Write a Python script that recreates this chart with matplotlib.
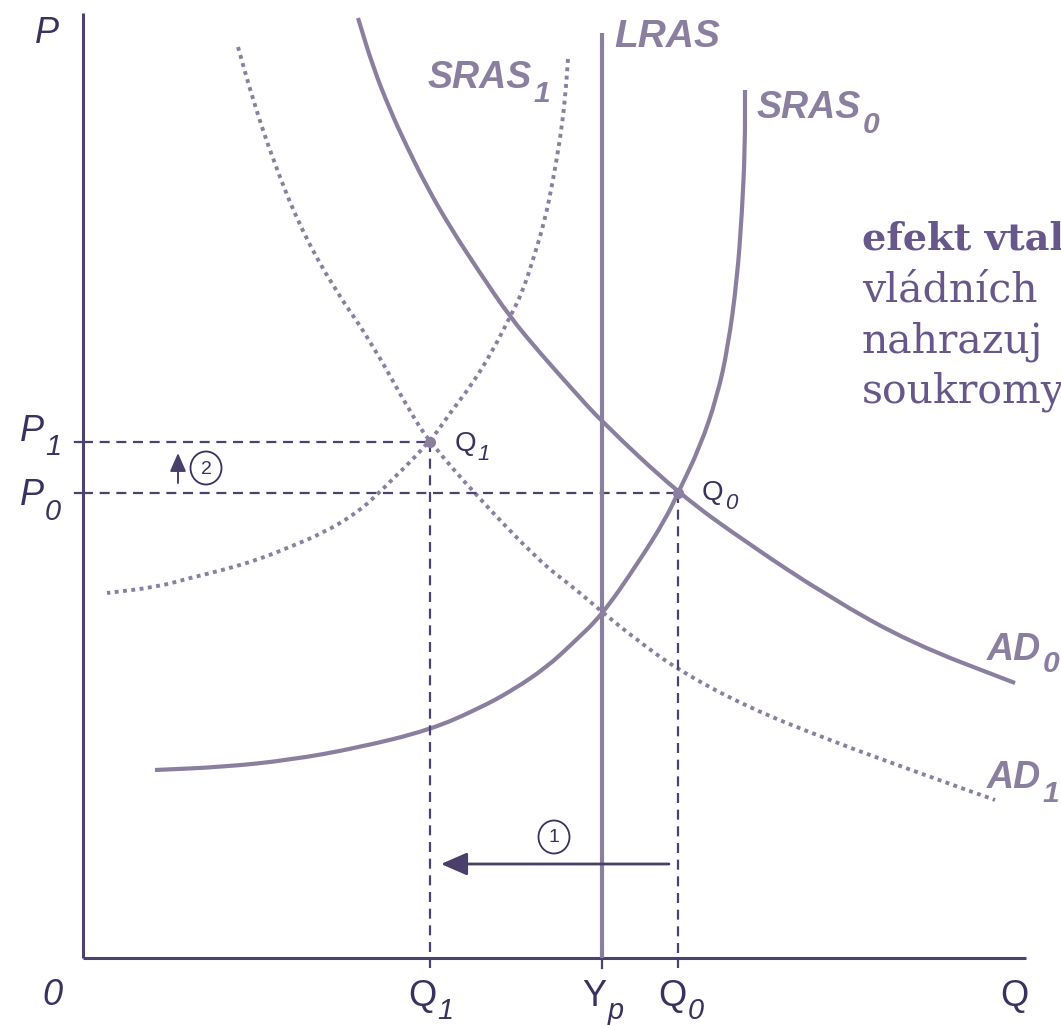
import matplotlib
matplotlib.use("Agg")
import matplotlib.pyplot as plt
from matplotlib.path import Path
from matplotlib.patches import PathPatch, Ellipse

# ---- data (pixel space of the diagram: x right, y down) ----
ad0_q = [358, 373, 390, 407, 427, 450, 480, 510, 540, 573, 602, 678, 747, 829, 911, 1015]
ad0_p = [18, 67, 110, 147, 187, 227, 273, 317, 353, 390, 422, 493, 543, 597, 643, 683]

ad1_q = [238, 253, 273, 300, 333, 370, 413, 430, 474, 540, 573, 602, 637, 678, 747, 829, 911, 995]
ad1_p = [47, 100, 160, 227, 287, 340, 417, 442, 493, 562, 587, 612, 640, 670, 707, 740, 770, 800]

sras0_q = [745, 745, 742, 737, 728, 717, 700, 678, 665, 638, 602, 573, 547, 513, 480, 430, 357, 290, 223, 155]
sras0_p = [90, 147, 213, 280, 347, 397, 447, 493, 520, 563, 615, 643, 667, 690, 708, 730, 748, 760, 767, 770]

sras1_q = [568, 565, 560, 553, 545, 533, 522, 510, 493, 473, 450, 430, 380, 357, 323, 290, 257, 223, 190, 157, 107]
sras1_p = [59, 100, 140, 180, 220, 260, 293, 317, 350, 383, 413, 442, 492, 513, 533, 547, 560, 570, 578, 587, 593]

lras_q = 602
lras_p = [33, 958]

eq_q = [678, 430]   # Q0, Q1
eq_p = [493, 442]   # P0, P1
yp_q = 602

text_lines = ["efekt vtal", "vládních ", "nahrazuj", "soukromy"]
text_bold = [True, False, False, False]

# ---- styles ----
CURVE = "#8b7fa0"
AXIS = "#4d426f"
DARK = "#3b3160"
TXT = "#67578a"

fig = plt.figure(figsize=(10.61, 10.25), dpi=100)
ax = fig.add_axes([0, 0, 1, 1])
ax.set_xlim(0, 1061)
ax.set_ylim(1025, 0)
ax.axis("off")


def smooth(ax, xs, ys, **kw):
    verts = [(xs[0], ys[0])]
    codes = [Path.MOVETO]
    n = len(xs)
    for i in range(1, n - 1):
        mx = (xs[i] + xs[i + 1]) / 2
        my = (ys[i] + ys[i + 1]) / 2
        if i == 1:
            verts.append(((xs[0] + xs[1]) / 2, (ys[0] + ys[1]) / 2))
            codes.append(Path.LINETO)
        verts += [(xs[i], ys[i]), (mx, my)]
        codes += [Path.CURVE3, Path.CURVE3]
    verts.append((xs[-1], ys[-1]))
    codes.append(Path.LINETO)
    ax.add_patch(PathPatch(Path(verts, codes), fill=False, **kw))


dot_style = dict(color=CURVE, lw=2.8, linestyle=(0, (1.0, 1.15)), capstyle="butt")
solid_style = dict(color=CURVE, lw=3.0, capstyle="butt")

# axes
ax.plot([83, 83], [13, 958], color=AXIS, lw=2.2, solid_capstyle="butt")
ax.plot([83, 1026], [958, 958], color=AXIS, lw=2.2, solid_capstyle="butt")

# dashed guide lines
dash = dict(color=AXIS, lw=1.6, linestyle=(0, (4.5, 3.0)))
ax.plot([75, 83], [eq_p[1], eq_p[1]], color=AXIS, lw=1.6)
ax.plot([75, 83], [eq_p[0], eq_p[0]], color=AXIS, lw=1.6)
ax.plot([83, eq_q[1]], [eq_p[1], eq_p[1]], **dash)
ax.plot([83, eq_q[0]], [eq_p[0], eq_p[0]], **dash)
ax.plot([eq_q[1], eq_q[1]], [eq_p[1], 968], **dash)
ax.plot([eq_q[0], eq_q[0]], [eq_p[0], 968], **dash)
ax.plot([yp_q, yp_q], [958, 968], color=AXIS, lw=1.6)

# curves
smooth(ax, ad1_q, ad1_p, **dot_style)
smooth(ax, sras1_q, sras1_p, **dot_style)
smooth(ax, ad0_q, ad0_p, **solid_style)
smooth(ax, sras0_q, sras0_p, **solid_style)
ax.plot([lras_q, lras_q], lras_p, color=CURVE, lw=3.0, solid_capstyle="butt")

# equilibrium dots
ax.plot(eq_q, eq_p, "o", color=CURVE, ms=8, mec="none")

# arrows
ax.annotate("", xy=(441, 864), xytext=(669, 864),
            arrowprops=dict(arrowstyle="-|>,head_length=0.8,head_width=0.35",
                            mutation_scale=20, lw=2.0, color="#4a3f6b",
                            shrinkA=0, shrinkB=0))
ax.annotate("", xy=(178, 453), xytext=(178, 483),
            arrowprops=dict(arrowstyle="-|>,head_length=0.8,head_width=0.35",
                            mutation_scale=14, lw=1.4, color="#4a3f6b",
                            shrinkA=0, shrinkB=0))
for (cx, cy, s) in [(554, 837, "1"), (206, 468, "2")]:
    ax.add_patch(Ellipse((cx, cy), 31, 33, fill=False, ec=DARK, lw=1.3))
    ax.text(cx, cy + 1, s, ha="center", va="center", fontsize=14,
            family="Liberation Sans", color=DARK)

fig.canvas.draw()
renderer = fig.canvas.get_renderer()


def label(x, y, main, sub, size, color, weight="normal", mstyle="normal",
          sstyle="italic", sub_scale=0.8, dy=15, gap=1, ha="left"):
    t = ax.text(x, y, main, fontsize=size, color=color, fontweight=weight,
                fontstyle=mstyle, family="Liberation Sans", va="baseline", ha="left")
    bb = t.get_window_extent(renderer)
    w_main = bb.x1 - bb.x0
    if sub:
        s = ax.text(0, 0, sub, fontsize=size * sub_scale, color=color,
                    fontweight=weight, fontstyle=sstyle,
                    family="Liberation Sans", va="baseline", ha="left")
        w_sub = s.get_window_extent(renderer).width
    else:
        s, w_sub = None, 0
    total = w_main + gap + w_sub
    x0 = x - total / 2 if ha == "center" else x
    t.set_x(x0)
    if s is not None:
        s.set_position((x0 + w_main + gap, y + dy))


# axis labels
label(35, 43, "P", None, 26, DARK, mstyle="italic")
label(20, 441, "P", "1", 26, DARK, mstyle="italic", dy=14)
label(20, 505, "P", "0", 26, DARK, mstyle="italic", dy=15)
label(42, 1005, "0", None, 26, DARK, mstyle="italic")
label(431, 1006, "Q", "1", 26, DARK, dy=13, ha="center")
label(603, 1006, "Y", "p", 26, DARK, dy=13, ha="center")
label(681, 1006, "Q", "0", 26, DARK, dy=13, ha="center")
label(1000, 1006, "Q", None, 26, DARK)

# point labels
label(455, 451, "Q", "1", 20, DARK, dy=9)
label(702, 500, "Q", "0", 20, DARK, dy=9)

# curve labels
label(614, 47, "LRAS", None, 28, CURVE, weight="bold", mstyle="italic")
label(428, 88, "SRAS", "1", 27, CURVE, weight="bold", mstyle="italic", dy=14)
label(757, 118, "SRAS", "0", 27, CURVE, weight="bold", mstyle="italic", dy=15)
label(987, 660, "AD", "0", 27, CURVE, weight="bold", mstyle="italic", dy=12)
label(987, 788, "AD", "1", 27, CURVE, weight="bold", mstyle="italic", dy=14)

# side text (cut by the figure edge, as in the original)
for i, (line, b) in enumerate(zip(text_lines, text_bold)):
    ax.text(862, 250 + i * 51, line, fontsize=27.5 if b else 29.5, color=TXT,
            family="DejaVu Serif", fontweight="bold" if b else "normal",
            va="baseline", ha="left", clip_on=False)

fig.savefig("out.png", dpi=100, facecolor="white")
